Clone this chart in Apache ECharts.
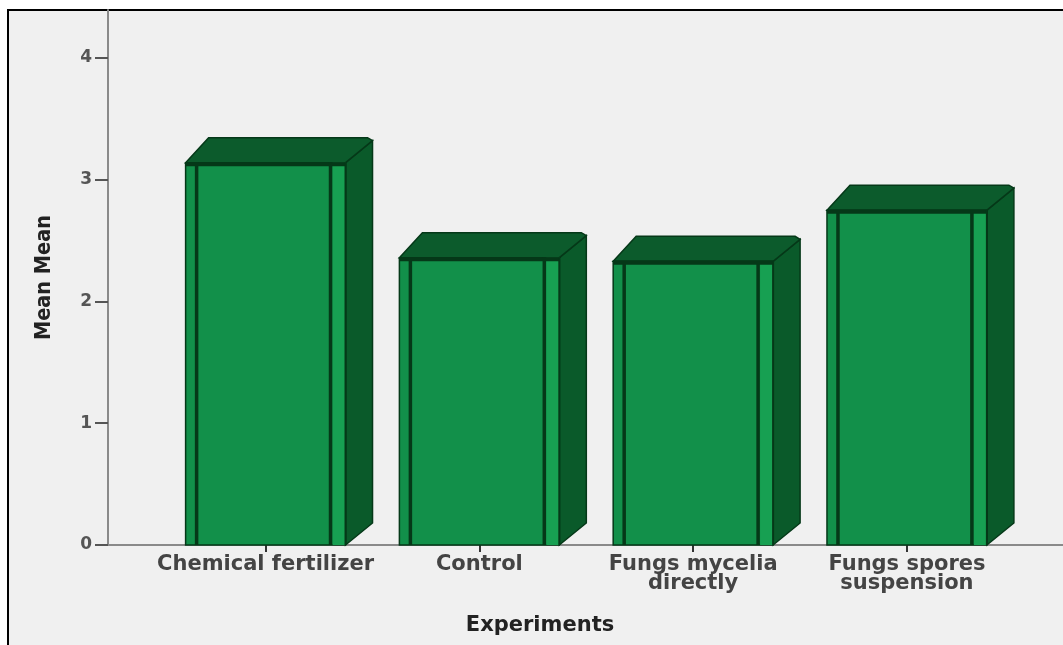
<!DOCTYPE html>
<html>
<head>
<meta charset="utf-8">
<script src="https://cdn.jsdelivr.net/npm/echarts@6/dist/echarts.min.js"></script>
<style>
html,body{margin:0;padding:0;background:#ffffff;}
#chart{width:1063px;height:645px;}
</style>
</head>
<body>
<div id="chart"></div>
<script>
const categories = ["Chemical fertilizer", "Control", "Fungs mycelia\ndirectly", "Fungs spores\nsuspension"];
const meanValues = [3.14, 2.36, 2.33, 2.75];
const yTickValues = [0, 1, 2, 3, 4];
const xTickValues = [0, 1, 2, 3];
const yAxisTitle = "Mean Mean";
const xAxisTitle = "Experiments";

const seriesData = meanValues.map((v, i) => [i, v]);

const chart = echarts.init(document.getElementById('chart'), null, {renderer: 'canvas'});

const HALF = 0.374;   // half bar width in category units
const DX = 27, DY = 22; // 3D depth in pixels
const EDGE = '#053818';

function renderItem(params, api) {
  const xi = api.value(0);
  const v = api.value(1);
  const pL = api.coord([xi - HALF, 0]);
  const pR = api.coord([xi + HALF, v]);
  const x0 = pL[0], y0 = pL[1], x1 = pR[0], y1 = pR[1];
  const children = [];
  children.push({type: 'polygon', shape: {points: [[x1, y1], [x1 + DX, y1 - DY], [x1 + DX, y0 - DY], [x1, y0]]},
    style: {fill: '#0a5a2a', stroke: EDGE, lineWidth: 1.5}});
  children.push({type: 'polygon', shape: {points: [[x0, y1], [x0 + DX - 4, y1 - DY - 3], [x1 + DX - 5, y1 - DY - 3], [x1 + DX, y1 - DY], [x1, y1]]},
    style: {fill: '#0c5b2c', stroke: EDGE, lineWidth: 1.5}});
  children.push({type: 'rect', shape: {x: x0, y: y1, width: x1 - x0, height: y0 - y1},
    style: {fill: '#12904a', stroke: EDGE, lineWidth: 1.5}});
  children.push({type: 'rect', shape: {x: x1 - 13, y: y1, width: 13, height: y0 - y1},
    style: {fill: '#17a052'}});
  children.push({type: 'line', shape: {x1: x0 + 11, y1: y1, x2: x0 + 11, y2: y0},
    style: {stroke: EDGE, lineWidth: 3.5}});
  children.push({type: 'line', shape: {x1: x1 - 15, y1: y1, x2: x1 - 15, y2: y0},
    style: {stroke: EDGE, lineWidth: 3.5}});
  children.push({type: 'line', shape: {x1: x0, y1: y1 + 1.5, x2: x1, y2: y1 + 1.5},
    style: {stroke: EDGE, lineWidth: 4}});
  children.push({type: 'line', shape: {x1: x1, y1: y1, x2: x1, y2: y0},
    style: {stroke: EDGE, lineWidth: 2}});
  return {type: 'group', children: children};
}

const option = {
  backgroundColor: '#ffffff',
  animation: false,
  graphic: [
    {type: 'rect', z: -10, silent: true, shape: {x: 8, y: 10, width: 1100, height: 700},
      style: {fill: '#f0f0f0', stroke: '#000000', lineWidth: 2}}
  ],
  title: {
    text: xAxisTitle, left: 535, top: 610, textAlign: 'center',
    textStyle: {fontFamily: 'DejaVu Sans', fontWeight: 'bold', fontSize: 21, color: '#222222'}
  },
  grid: {left: 108, right: 0, top: 10, bottom: 100, containLabel: false},
  xAxis: {
    type: 'value', min: -0.737, max: 3.730,
    splitLine: {show: false},
    axisLine: {show: true, onZero: false, lineStyle: {color: '#8a8a8a', width: 2}},
    axisTick: {show: true, customValues: xTickValues, length: 7, lineStyle: {color: '#333333', width: 2}},
    axisLabel: {
      customValues: xTickValues, margin: 10,
      formatter: v => categories[Math.round(v)],
      fontFamily: 'DejaVu Sans', fontWeight: 'bold', fontSize: 21, lineHeight: 19, color: '#444444'
    }
  },
  yAxis: {
    type: 'value', min: 0, max: 4.394,
    name: yAxisTitle, nameLocation: 'middle', nameRotate: 90, nameGap: 53,
    nameTextStyle: {fontFamily: "'DejaVu Sans Condensed', sans-serif", fontWeight: 'bold', fontSize: 21.5, color: '#222222'},
    splitLine: {show: false},
    axisLine: {show: true, onZero: false, lineStyle: {color: '#8a8a8a', width: 2}},
    axisTick: {show: true, customValues: yTickValues, length: 13, lineStyle: {color: '#555555', width: 2}},
    axisLabel: {customValues: yTickValues, margin: 16, fontFamily: 'DejaVu Sans', fontWeight: 'bold', fontSize: 17, color: '#555555'}
  },
  series: [{
    type: 'custom',
    renderItem: renderItem,
    data: seriesData,
    encode: {x: 0, y: 1},
    clip: false
  }]
};
chart.setOption(option);
</script>
</body>
</html>
